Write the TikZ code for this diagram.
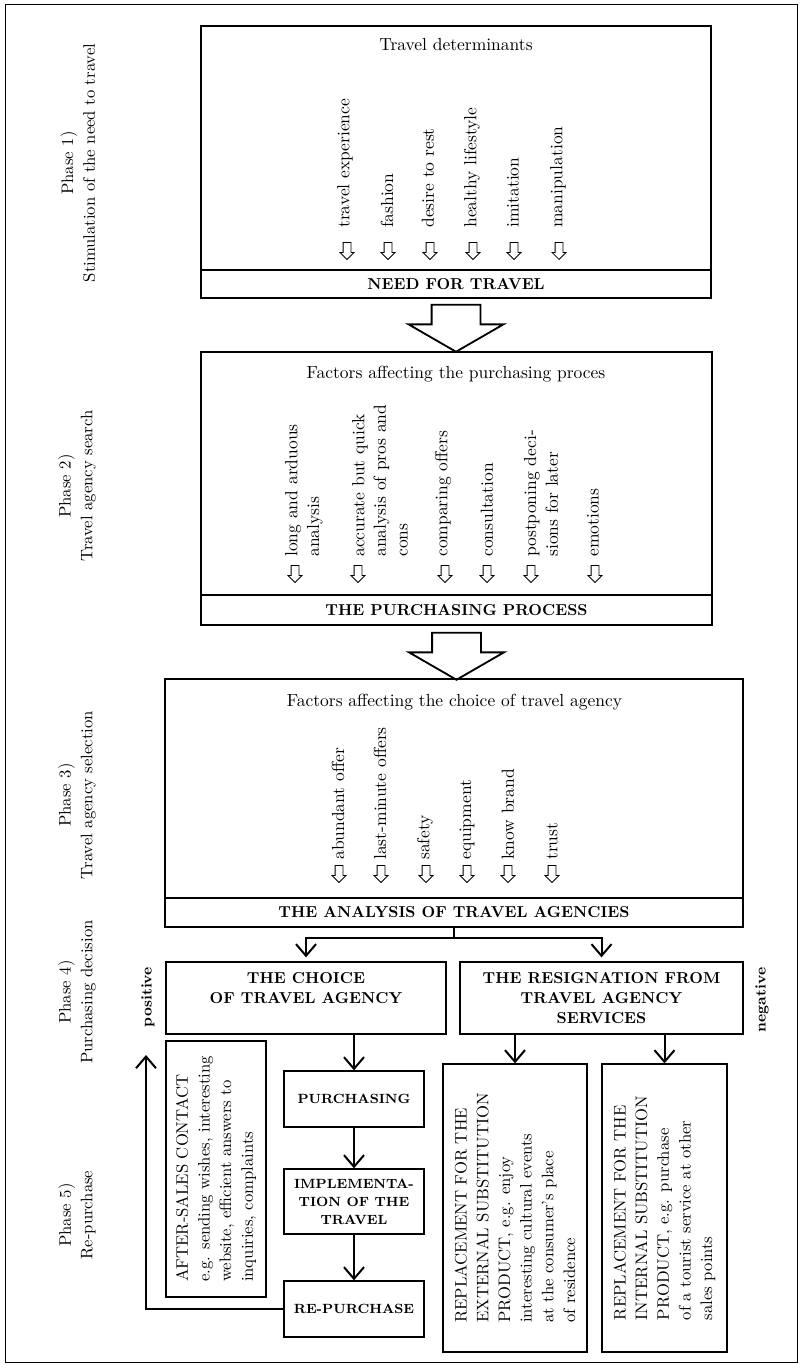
\documentclass[tikz,border=0pt]{standalone}
\usepackage{amsmath}
\usetikzlibrary{shapes.arrows,arrows.meta}

\begin{document}
\begin{tikzpicture}[x=0.6pt,y=-0.6pt,
  panel/.style={draw,line width=0.8pt,inner sep=0pt},
  barbox/.style={draw,line width=1pt,inner sep=0pt,font=\fontsize{9.5}{12}\selectfont\bfseries},
  boxtitle/.style={inner sep=0pt,font=\fontsize{10.5}{12}\selectfont},
  factor/.style={rotate=90,anchor=west,align=left,inner sep=0pt,font=\fontsize{10.5}{13}\selectfont},
  phaselabel/.style={rotate=90,align=center,font=\fontsize{10}{13}\selectfont},
  hint/.style={single arrow,draw,rotate=-90,anchor=tail,inner xsep=0pt,inner ysep=2.1pt,
    single arrow head extend=1.8pt,minimum height=10.2pt,line width=0.5pt},
  push/.style={single arrow,draw,rotate=-90,anchor=tail,inner xsep=0pt,inner ysep=14.1pt,
    single arrow head extend=13.8pt,single arrow tip angle=120,minimum height=28.2pt,line width=1.1pt},
  choice/.style={draw,line width=0.8pt,align=center,font=\fontsize{9.5}{12}\selectfont\bfseries},
  stage/.style={draw,line width=0.8pt,align=center,minimum width=84pt,font=\fontsize{8}{10.8}\selectfont\bfseries},
  note/.style={draw,rotate=90,align=left,line width=0.8pt,font=\fontsize{10}{13}\selectfont},
  flow/.style={-{Straight Barb[length=7pt,width=12pt]},line width=1.2pt},
]
%\draw[step=50,gray,very thin] (0,0) grid (803,1364); %background grid
\useasboundingbox (0,0) rectangle (803,1364);
\draw[line width=0.6pt] (5,5) rectangle (797,1362);

% phase labels
\node[phaselabel] (ph1) at (78,163)  {Phase 1)\\Stimulation of the need to travel};
\node[phaselabel] (ph2) at (77,486)  {Phase 2)\\Travel agency search};
\node[phaselabel] (ph3) at (77,795)  {Phase 3)\\Travel agency selection};
\node[phaselabel] (ph4) at (77,992)  {Phase 4)\\Purchasing decision};
\node[phaselabel] (ph5) at (77,1215) {Phase 5)\\Re-purchase};

% phase 1
\node[panel,minimum width=306pt,minimum height=146.4pt] (det) at (456,148) {};
\node[barbox,minimum width=306pt,minimum height=16.8pt] (need) at (456,284) {NEED FOR TRAVEL};
\node[boxtitle] (dettitle) at (456,45) {Travel determinants};

\node[factor] (det1) at (345,228) {travel experience};
\node[factor] (det2) at (387,228) {fashion};
\node[factor] (det3) at (428,228) {desire to rest};
\node[factor] (det4) at (472,228) {healthy lifestyle};
\node[factor] (det5) at (513,228) {imitation};
\node[factor] (det6) at (558,228) {manipulation};

\node[hint] (hd1) at (347,242) {};
\node[hint] (hd2) at (388,242) {};
\node[hint] (hd3) at (430,242) {};
\node[hint] (hd4) at (473,242) {};
\node[hint] (hd5) at (514,242) {};
\node[hint] (hd6) at (559,242) {};

\node[push] (push1) at ([yshift=-3pt]need.south) {};

% phase 2
\node[panel,minimum width=306.6pt,minimum height=145.8pt] (fac) at (456.5,473.5) {};
\node[barbox,minimum width=306.6pt,minimum height=18pt] (process) at (456.5,610) {THE PURCHASING PROCESS};
\node[boxtitle] (factitle) at (456,374) {Factors affecting the purchasing proces};

\node[factor] (fac1) at (304,557) {long and arduous\\analysis};
\node[factor] (fac2) at (380,557) {accurate but quick\\analysis of pros and\\cons};
\node[factor] (fac3) at (443,557) {comparing offers};
\node[factor] (fac4) at (487,557) {consultation};
\node[factor] (fac5) at (541,557) {postponing deci-\\sions for later};
\node[factor] (fac6) at (593,557) {emotions};

\node[hint] (hf1) at (295,565) {};
\node[hint] (hf2) at (358,565) {};
\node[hint] (hf3) at (445,565) {};
\node[hint] (hf4) at (487,565) {};
\node[hint] (hf5) at (531,565) {};
\node[hint] (hf6) at (595,565) {};

\node[push] (push2) at ([yshift=-3.6pt]process.south) {};

% phase 3
\node[panel,minimum width=346.8pt,minimum height=131.4pt] (sel) at (454,788.5) {};
\node[barbox,minimum width=346.8pt,minimum height=17.4pt] (analysis) at (454,912.5) {THE ANALYSIS OF TRAVEL AGENCIES};
\node[boxtitle] (seltitle) at (454.5,702) {Factors affecting the choice of travel agency};

\node[factor] (sel1) at (338,860) {abundant offer};
\node[factor] (sel2) at (380,860) {last-minute offers};
\node[factor] (sel3) at (425,860) {safety};
\node[factor] (sel4) at (467,860) {equipment};
\node[factor] (sel5) at (508,860) {know brand};
\node[factor] (sel6) at (552,860) {trust};

\node[hint] (hs1) at (339,865) {};
\node[hint] (hs2) at (381,865) {};
\node[hint] (hs3) at (426,865) {};
\node[hint] (hs4) at (467,865) {};
\node[hint] (hs5) at (508,865) {};
\node[hint] (hs6) at (552,865) {};

% phase 4
\node[choice,minimum width=168pt,minimum height=43.2pt] (choose) at (306,998) {THE CHOICE\\OF TRAVEL AGENCY\\~};
\node[choice,minimum width=169.8pt,minimum height=43.2pt] (resign) at (601.5,998) {THE RESIGNATION FROM\\TRAVEL AGENCY\\SERVICES};
\node[rotate=90,font=\fontsize{9}{11}\selectfont\bfseries] (pos) at (148,997) {positive};
\node[rotate=90,font=\fontsize{9}{11}\selectfont\bfseries] (neg) at (762,1000) {negative};

\draw[flow,shorten >=2.4pt] (analysis.south) -- ++(0,10) -| (choose.north);
\draw[flow,shorten >=2.4pt] (analysis.south) -- ++(0,10) -| (resign.north);

% phase 5
\node[stage,minimum height=33.6pt] (buy) at (354,1099) {PURCHASING};
\node[stage,minimum height=39pt] (trip) at (354,1201.5) {IMPLEMENTA-\\TION OF THE\\TRAVEL};
\node[stage,minimum height=33.6pt] (rebuy) at (354,1309) {RE-PURCHASE};

\node[note,minimum width=153.6pt,minimum height=60pt] (after) at (216,1169)
  {AFTER-SALES CONTACT\\e.g. sending wishes, interesting\\website, efficient answers to\\inquiries, complaints};
\node[note,minimum width=172.8pt,minimum height=86.4pt] (extern) at (515,1208)
  {REPLACEMENT FOR THE\\EXTERNAL SUBSTITUTION\\PRODUCT, e.g. enjoy\\interesting cultural events\\at the consumer's place\\of residence};
\node[note,minimum width=172.8pt,minimum height=75pt] (intern) at (664.5,1208)
  {REPLACEMENT FOR THE\\INTERNAL SUBSTITUTION\\PRODUCT, e.g. purchase\\of a tourist service at other\\sales points};

\coordinate (back) at (146,1055);

\draw[flow] (choose.south -| buy.north) -- (buy.north);
\draw[flow] (buy) -- (trip);
\draw[flow] (trip) -- (rebuy);
\draw[flow] (rebuy.west) -| (back);
% rotated notes: their east side is the top edge
\draw[flow] (resign.south -| extern.east) -- (extern.east);
\draw[flow] (resign.south -| intern.east) -- (intern.east);

\end{tikzpicture}
\end{document}
